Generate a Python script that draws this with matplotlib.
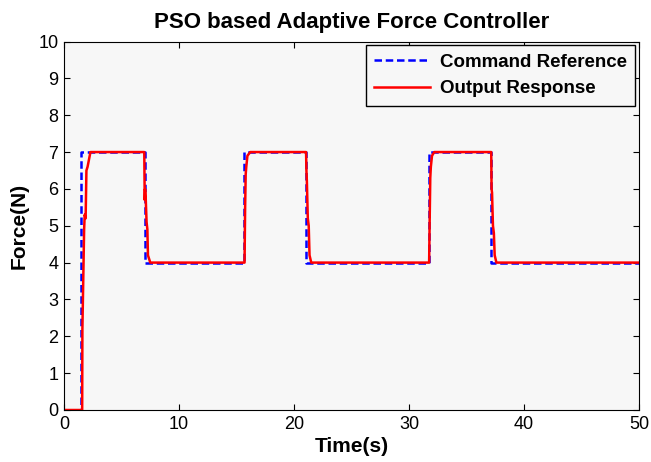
import matplotlib
matplotlib.use("Agg")
import matplotlib.pyplot as plt

plt.rcParams['font.family'] = ['Liberation Sans', 'DejaVu Sans']

# command reference (step changes)
ref_t = [0, 1.5, 1.5, 7.0, 7.0, 15.65, 15.65, 21.0, 21.0, 31.7, 31.7, 37.1, 37.1, 50]
ref_f = [0, 0, 7, 7, 4, 4, 7, 7, 4, 4, 7, 7, 4, 4]

# output response
out_t = [0, 1.58, 1.6, 1.75, 1.8, 1.88, 1.95, 2.05, 2.3,
         6.98, 7.0, 7.02, 7.05, 7.1, 7.18, 7.25, 7.3, 7.5,
         15.7, 15.75, 15.8, 15.85, 15.95, 16.2,
         21.05, 21.08, 21.12, 21.2, 21.28, 21.35, 21.5,
         31.75, 31.8, 31.85, 31.9, 32.0, 32.2,
         37.15, 37.18, 37.22, 37.3, 37.38, 37.45, 37.6, 50]
out_f = [0, 0, 2.2, 4.9, 5.3, 5.2, 6.5, 6.6, 7.0,
         7.0, 6.3, 5.7, 6.0, 5.8, 5.1, 4.9, 4.2, 4.0,
         4.0, 5.5, 6.4, 6.6, 6.9, 7.0,
         7.0, 6.5, 6.2, 5.2, 5.0, 4.2, 4.0,
         4.0, 5.2, 6.3, 6.6, 6.9, 7.0,
         7.0, 6.0, 5.9, 5.0, 4.8, 4.2, 4.0, 4.0]

fig = plt.figure(figsize=(6.51, 4.62), dpi=100)
ax = fig.add_axes([64/651, 1 - 410/462, 575/651, 368.5/462])
ax.set_facecolor('#f7f7f7')

ax.plot(ref_t, ref_f, 'b--', lw=1.8, label='Command Reference', dashes=(3, 1.5))
ax.plot(out_t, out_f, 'r-', lw=1.8, label='Output Response')

ax.set_xlim(0, 50)
ax.set_ylim(0, 10)
ax.set_xticks(range(0, 51, 10))
ax.set_yticks(range(0, 11))
ax.tick_params(direction='in', top=True, right=True, labelsize=13, length=4, pad=4)
ax.set_title('PSO based Adaptive Force Controller', fontsize=16, fontweight='bold', pad=10)
ax.set_xlabel('Time(s)', fontsize=15, fontweight='bold', labelpad=3)
ax.set_ylabel('Force(N)', fontsize=15, fontweight='bold', labelpad=7)

leg = ax.legend(loc='upper right', prop={'weight': 'bold', 'size': 13.5},
                fancybox=False, edgecolor='black', framealpha=1, facecolor='#f7f7f7',
                borderaxespad=0.2, handlelength=3.0, handletextpad=0.5,
                borderpad=0.45, labelspacing=0.5)
leg.get_frame().set_linewidth(1.0)

fig.savefig('out.png', dpi=100)
